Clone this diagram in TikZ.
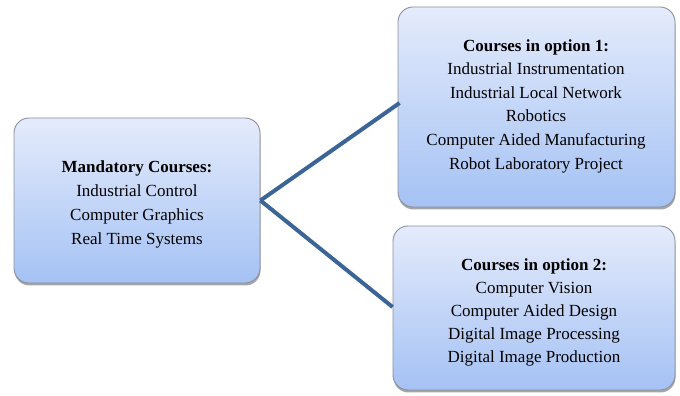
\documentclass[tikz,border=0pt]{standalone}
\usepackage{fontspec}
\setmainfont{Liberation Serif}
\usetikzlibrary{shadows}
\definecolor{boxtop}{HTML}{E4EBFB}
\definecolor{boxbottom}{HTML}{A5C2F4}
\definecolor{boxline}{HTML}{8C9099}
\definecolor{linkblue}{HTML}{3C6597}
\tikzset{
  coursebox/.style={draw=boxline, line width=0.9pt, rounded corners=15pt,
    top color=boxtop, bottom color=boxbottom, inner sep=0pt,
    drop shadow={shadow xshift=0.5pt, shadow yshift=-2.5pt, fill=black, opacity=0.35}},
  courselist/.style={align=center, font=\fontsize{17}{23}\selectfont, text=black},
  link/.style={draw=linkblue, line width=4pt}
}
\begin{document}
\begin{tikzpicture}[x=1pt, y=1pt]
  \useasboundingbox (0,0) rectangle (680,396);
  % course boxes
  \node[coursebox, minimum width=246pt, minimum height=165pt] (mand) at (137,195.5) {};
  \node[coursebox, minimum width=277pt, minimum height=200pt] (opt1) at (536.5,289) {};
  \node[coursebox, minimum width=282pt, minimum height=164pt] (opt2) at (534,88) {};
  % box contents
  \node[courselist, font=\fontsize{17}{24}\selectfont] (mandtext) at (137,192)
    {\textbf{Mandatory Courses:}\\Industrial Control\\Computer Graphics\\Real Time Systems};
  \node[courselist, font=\fontsize{17}{23.6}\selectfont] (opt1text) at (536,290)
    {\textbf{Courses in option 1:}\\Industrial Instrumentation\\Industrial Local Network\\Robotics\\Computer Aided Manufacturing\\Robot Laboratory Project};
  \node[courselist] (opt2text) at (534,84)
    {\textbf{Courses in option 2:}\\Computer Vision\\Computer Aided Design\\Digital Image Processing\\Digital Image Production};
  % connectors
  \draw[link] (mand.east) -- ([xshift=2pt,yshift=4pt]opt1.west);
  \draw[link] (mand.east) -- ([yshift=1pt]opt2.west);
\end{tikzpicture}
\end{document}
